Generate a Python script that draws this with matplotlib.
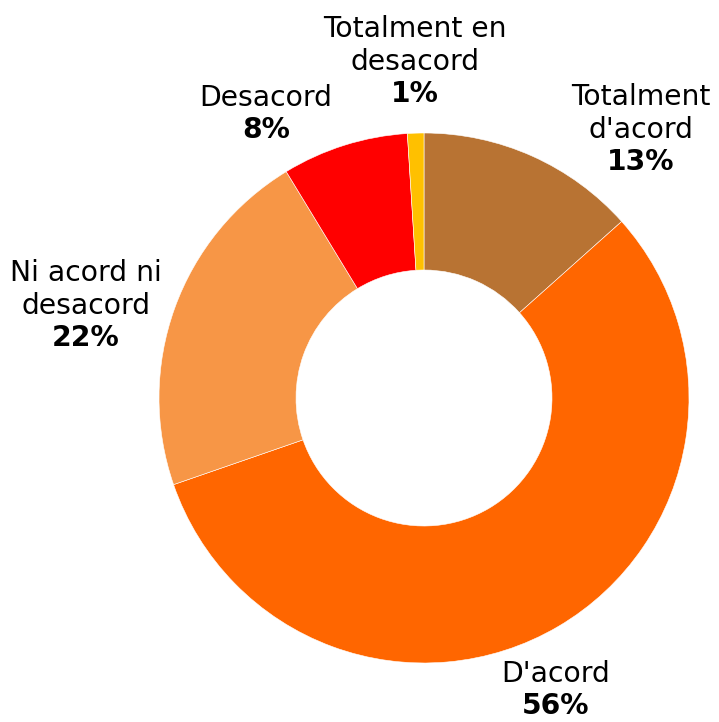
import matplotlib.pyplot as plt

# === DATOS ===
categorias = ["Totalment d'acord", "D'acord", "Ni acord ni desacord", "Desacord", "Totalment en desacord"]
valores = [13.4, 56.3, 21.6, 7.7, 1.0]
colores = ["#B87333", "#FF6600", "#F79646", "#FF0000", "#FFC000"]

# lineas de etiqueta y posicion (pixeles) de cada etiqueta
etiquetas = [["Totalment", "d'acord"], ["D'acord"], ["Ni acord ni", "desacord"], ["Desacord"], ["Totalment en", "desacord"]]
pos_etiquetas = [(641, 97), (556, 674), (86, 273), (266, 98), (415, 29)]

W, H = 719, 722
fig = plt.figure(figsize=(W / 100, H / 100), dpi=100)
ax = fig.add_axes([0, 0, 1, 1])

cx, cy, r = 424, H - 398, 265
ax.pie(valores, colors=colores, startangle=90, counterclock=False,
       center=(cx, cy), radius=r, frame=True,
       wedgeprops=dict(width=r - 128, edgecolor="white", linewidth=0.4))
ax.set_xlim(0, W)
ax.set_ylim(0, H)
ax.set_aspect("equal")
ax.axis("off")

fs = 20.3
paso = 33
for lineas, val, (x, y) in zip(etiquetas, valores, pos_etiquetas):
    for i, linea in enumerate(lineas):
        ax.text(x, H - (y + i * paso), linea, ha="center", va="center", fontsize=fs, color="black")
    ax.text(x, H - (y + len(lineas) * paso - 1), f"{round(val)}%", ha="center", va="center",
            fontsize=fs, fontweight="bold", color="black")

plt.savefig("out.png", dpi=100)
